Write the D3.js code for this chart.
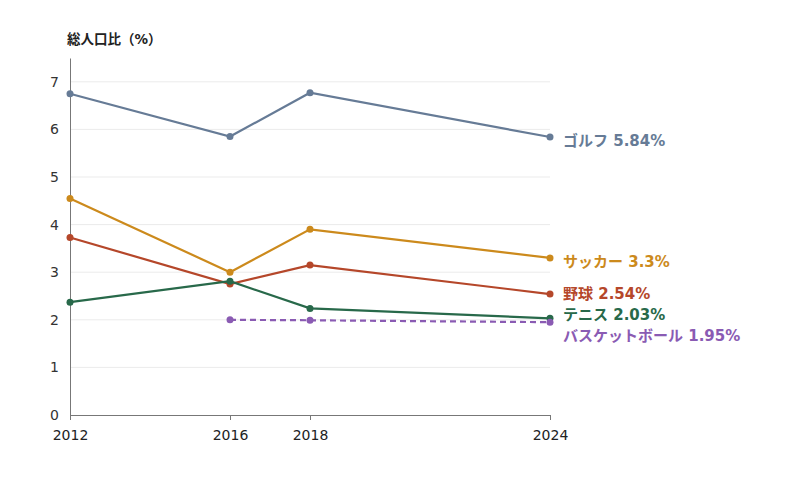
<!DOCTYPE html>
<html>
<head>
<meta charset="utf-8">
<script src="https://cdn.jsdelivr.net/npm/d3@7"></script>
<style>
  body { margin: 0; background: #fff; }
  svg text { font-family: "DejaVu Sans", "Noto Sans CJK JP", sans-serif; }
</style>
</head>
<body>
<div id="chart"></div>
<script>
// years on the x axis
var years = [2012, 2016, 2018, 2024];
var yTicks = [0, 1, 2, 3, 4, 5, 6, 7];

// series values (null = no data)
var golf = [6.75, 5.85, 6.77, 5.84];
var soccer = [4.55, 3.0, 3.9, 3.3];
var baseball = [3.73, 2.75, 3.15, 2.54];
var tennis = [2.37, 2.81, 2.24, 2.03];
var basketball = [null, 2.0, 1.99, 1.95];

var names = ["ゴルフ", "サッカー", "野球", "テニス", "バスケットボール"];
var endLabels = ["5.84%", "3.3%", "2.54%", "2.03%", "1.95%"];
var colors = ["#667b96", "#cc8a1c", "#b5472a", "#28694a", "#8a5bb3"];

var seriesList = [golf, soccer, baseball, tennis, basketball];

var width = 800, height = 480;
var margin = {top: 58, left: 70, right: 250, bottom: 65};

var svg = d3.select("#chart").append("svg")
    .attr("width", width)
    .attr("height", height);

var x = d3.scaleLinear()
    .domain([2012, 2024])
    .range([margin.left, width - margin.right]);

var y = d3.scaleLinear()
    .domain([0, 7.5])
    .range([height - margin.bottom, margin.top]);

// gridlines
svg.append("g")
    .selectAll("line")
    .data(yTicks.filter(function (d) { return d > 0; }))
    .enter().append("line")
    .attr("x1", x(2012))
    .attr("x2", x(2024))
    .attr("y1", function (d) { return y(d); })
    .attr("y2", function (d) { return y(d); })
    .attr("stroke", "#ebebeb")
    .attr("stroke-width", 1);

// y axis
var yAxis = svg.append("g")
    .attr("transform", "translate(" + margin.left + ",0)")
    .call(d3.axisLeft(y).tickValues(yTicks).tickSize(0).tickPadding(11));
yAxis.select(".domain").attr("stroke", "#777");
yAxis.selectAll("text").attr("font-size", 14).attr("fill", "#333");

// x axis
var xAxis = svg.append("g")
    .attr("transform", "translate(0," + y(0) + ")")
    .call(d3.axisBottom(x).tickValues(years).tickFormat(d3.format("d")).tickSize(5).tickPadding(10));
xAxis.select(".domain").attr("stroke", "#777");
xAxis.selectAll("line").attr("stroke", "#777");
xAxis.selectAll("text").attr("font-size", 14).attr("fill", "#222");

// axis title
svg.append("text")
    .attr("x", 67)
    .attr("y", 44)
    .attr("font-size", 13.5)
    .attr("font-weight", "bold")
    .attr("fill", "#222")
    .text("総人口比（%）");

var line = d3.line()
    .defined(function (d) { return d.v != null; })
    .x(function (d) { return x(d.year); })
    .y(function (d) { return y(d.v); });

seriesList.forEach(function (vals, i) {
    var pts = years.map(function (yr, j) { return {year: yr, v: vals[j]}; });
    svg.append("path")
        .datum(pts)
        .attr("fill", "none")
        .attr("stroke", colors[i])
        .attr("stroke-width", 2.2)
        .attr("stroke-dasharray", i === 4 ? "6,4" : null)
        .attr("d", line);
    svg.append("g")
        .selectAll("circle")
        .data(pts.filter(function (d) { return d.v != null; }))
        .enter().append("circle")
        .attr("cx", function (d) { return x(d.year); })
        .attr("cy", function (d) { return y(d.v); })
        .attr("r", 3.5)
        .attr("fill", colors[i]);
});

// end labels, nudged apart so they don't overlap
var labels = seriesList.map(function (vals, i) {
    var last = vals[vals.length - 1];
    return {i: i, y: y(last) + 3};
});
var gap = 21;
for (var k = 0; k < 20; k++) {
    labels.sort(function (a, b) { return a.y - b.y; });
    for (var m = 1; m < labels.length; m++) {
        var d = labels[m].y - labels[m - 1].y;
        if (d < gap) {
            var push = (gap - d) / 2;
            labels[m - 1].y -= push;
            labels[m].y += push;
        }
    }
}
labels.forEach(function (l) {
    svg.append("text")
        .attr("x", x(2024) + 13)
        .attr("y", l.y)
        .attr("dy", "0.38em")
        .attr("font-size", 15)
        .attr("font-weight", "bold")
        .attr("fill", colors[l.i])
        .text(names[l.i] + " " + endLabels[l.i]);
});
</script>
</body>
</html>
